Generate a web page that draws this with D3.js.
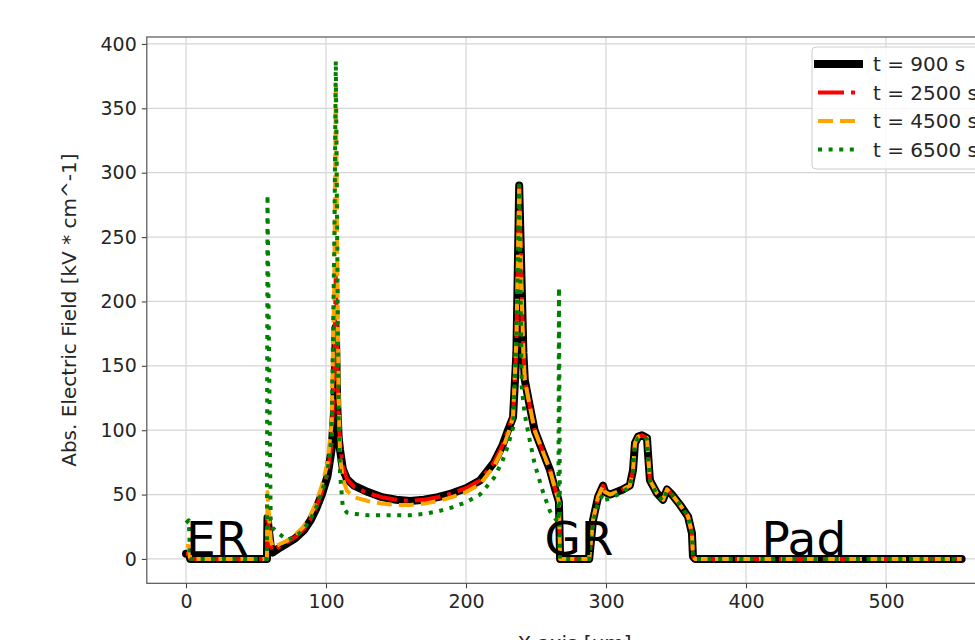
<!DOCTYPE html>
<html>
<head>
<meta charset="utf-8">
<title>Abs. Electric Field</title>
<script src="https://cdn.jsdelivr.net/npm/d3@7"></script>
<style>
  body { margin: 0; background: #fff; }
  svg { display: block; font-family: "DejaVu Sans", sans-serif; }
</style>
</head>
<body>
<div id="chart"></div>
<script>
// x positions along the structure (um)
var xPos = [0, 2, 3, 57.8, 58.2, 60.5, 62, 66, 72, 78, 84, 89, 93, 97, 101, 104, 106, 107, 108, 109, 110,
  112, 115, 120, 130, 140, 150, 160, 170, 180, 190, 200, 210, 220, 226, 230, 233.6, 236, 238, 239.8, 241,
  242, 245, 249, 255, 260, 264, 266, 266.4, 267.2, 288, 290.7, 294.3, 297.9, 299.3, 302.9, 312, 317, 319.3, 320.7, 323,
  325.7, 329.3, 330, 331.4, 336.4, 340.7, 343.6, 347.1, 352.9, 358.6, 361.4, 362.1, 363.6, 554];

// field values (kV/cm) for each time step
var field900 = [4, 4, 0, 0, 32, 10, 5, 8, 12, 16, 22, 30, 39, 50, 64, 85, 118, 180, 120, 95, 85,
  70, 62, 57, 52, 48, 46, 45, 46, 48, 51, 55, 61, 75, 88, 100, 110, 160, 290, 211, 160,
  139, 122, 100, 83, 69, 53, 46, 44, 0, 0, 30, 48, 57, 52, 50, 54, 57, 69, 90, 95,
  96, 94, 82, 61, 51, 46, 54, 50, 42, 33, 20, 2, 0, 0];
var field2500 = [4, 4, 0, 0, 32, 10, 6, 9, 13, 17, 23, 31, 40, 52, 66, 90, 150, 225, 160, 110, 90,
  72, 62, 56, 51, 48, 46, 45, 46, 48, 51, 55, 61, 75, 88, 100, 112, 165, 290, 205, 160,
  139, 122, 100, 83, 69, 53, 46, 44, 0, 0, 30, 48, 57, 52, 50, 54, 57, 69, 90, 95,
  96, 94, 82, 61, 51, 46, 54, 50, 42, 33, 20, 2, 0, 0];
var field4500 = [10, 10, 0, 0, 52, 15, 9, 11, 14, 19, 25, 34, 44, 57, 74, 105, 220, 370, 240, 130, 80,
  62, 53, 48, 45, 43, 42, 42, 43, 45, 48, 52, 58, 72, 85, 97, 110, 170, 290, 205, 160,
  139, 122, 100, 83, 69, 53, 46, 44, 0, 0, 30, 48, 57, 52, 50, 54, 57, 69, 90, 95,
  96, 94, 82, 61, 51, 46, 54, 50, 42, 33, 20, 2, 0, 0];
var field6500 = [28, 30, 0, 0, 283, 30, 24, 20, 15, 17, 23, 31, 40, 52, 67, 95, 250, 387, 250, 110, 67,
  40, 36, 35, 34, 34, 34, 34, 35, 37, 40, 44, 50, 63, 76, 88, 102, 170, 290, 134, 121,
  112, 95, 74, 52, 37, 31, 28, 211, 0, 0, 28, 44, 50, 46, 47, 52, 56, 68, 89, 94,
  95, 93, 81, 61, 50, 45, 53, 50, 42, 33, 20, 2, 0, 0];

var seriesNames = ["t = 900 s", "t = 2500 s", "t = 4500 s", "t = 6500 s"];
var seriesValues = [field900, field2500, field4500, field6500];

var xTicks = [0, 100, 200, 300, 400, 500];
var yTicks = [0, 50, 100, 150, 200, 250, 300, 350, 400];

var regionNames = ["ER", "GR", "Pad"];
var regionX = [0, 256, 411];

// line looks per series
var styles = [
  {color: "#000000", width: 8, dash: null},
  {color: "#ff0000", width: 4, dash: "26,7,4,7"},
  {color: "#ffa500", width: 4, dash: "15,7"},
  {color: "#008000", width: 4, dash: "4,6.6"}
];

var width = 975, height = 640;
var plot = {left: 146.8, right: 1002.2, top: 37, bottom: 583.3};

var svg = d3.select("#chart")
  .append("svg")
    .attr("width", width)
    .attr("height", height);

var x = d3.scaleLinear().domain([-28, 583]).range([plot.left, plot.right]);
var y = d3.scaleLinear().domain([-18.9, 405.4]).range([plot.bottom, plot.top]);

// grid
svg.append("g").selectAll("line")
  .data(xTicks)
  .enter().append("line")
    .attr("x1", function(d) { return x(d); })
    .attr("x2", function(d) { return x(d); })
    .attr("y1", plot.top)
    .attr("y2", plot.bottom)
    .attr("stroke", "#d5d5d5")
    .attr("stroke-width", 1.2);
svg.append("g").selectAll("line")
  .data(yTicks)
  .enter().append("line")
    .attr("x1", plot.left)
    .attr("x2", plot.right)
    .attr("y1", function(d) { return y(d); })
    .attr("y2", function(d) { return y(d); })
    .attr("stroke", "#d5d5d5")
    .attr("stroke-width", 1.2);

// curves
var line = d3.line()
  .x(function(d) { return x(d[0]); })
  .y(function(d) { return y(d[1]); });

svg.append("clipPath").attr("id", "plotclip")
  .append("rect")
    .attr("x", plot.left).attr("y", plot.top)
    .attr("width", plot.right - plot.left).attr("height", plot.bottom - plot.top);

var curves = svg.append("g").attr("clip-path", "url(#plotclip)");
seriesValues.forEach(function(vals, i) {
  var pts = xPos.map(function(xv, j) { return [xv, vals[j]]; });
  var s = styles[i];
  curves.append("path")
    .datum(pts)
    .attr("d", line)
    .attr("fill", "none")
    .attr("stroke", s.color)
    .attr("stroke-width", s.width)
    .attr("stroke-linejoin", "round")
    .attr("stroke-linecap", s.dash ? "butt" : "round")
    .attr("stroke-dasharray", s.dash);
});

// region labels
svg.append("g").selectAll("text")
  .data(regionNames)
  .enter().append("text")
    .attr("x", function(d, i) { return x(regionX[i]); })
    .attr("y", y(3))
    .attr("font-size", "47px")
    .attr("fill", "#000")
    .text(function(d) { return d; });

// axes
var xAxis = svg.append("g")
  .attr("transform", "translate(0," + plot.bottom + ")")
  .call(d3.axisBottom(x).tickValues(xTicks).tickSize(5).tickPadding(6).tickSizeOuter(0));
var yAxis = svg.append("g")
  .attr("transform", "translate(" + plot.left + ",0)")
  .call(d3.axisLeft(y).tickValues(yTicks).tickSize(5).tickPadding(5).tickSizeOuter(0));

[xAxis, yAxis].forEach(function(a) {
  a.select(".domain").remove();
  a.selectAll("line").attr("stroke", "#444").attr("stroke-width", 1.1);
  a.selectAll("text")
    .attr("font-family", "DejaVu Sans, sans-serif")
    .attr("font-size", "19px")
    .attr("fill", "#262626");
});

// frame
svg.append("rect")
  .attr("x", plot.left).attr("y", plot.top)
  .attr("width", plot.right - plot.left).attr("height", plot.bottom - plot.top)
  .attr("fill", "none")
  .attr("stroke", "#555")
  .attr("stroke-width", 1.2);

// axis titles
svg.append("text")
  .attr("transform", "translate(76," + ((plot.top + plot.bottom) / 2) + ") rotate(-90)")
  .attr("text-anchor", "middle")
  .attr("font-size", "20px")
  .attr("fill", "#262626")
  .text("Abs. Electric Field [kV * cm^-1]");

svg.append("text")
  .attr("x", (plot.left + plot.right) / 2)
  .attr("y", 650)
  .attr("text-anchor", "middle")
  .attr("font-size", "20px")
  .attr("fill", "#262626")
  .text("X axis [um]");

// legend
var legend = svg.append("g").attr("transform", "translate(812,47)");
legend.append("rect")
  .attr("width", 200).attr("height", 122)
  .attr("rx", 4)
  .attr("fill", "#fff").attr("fill-opacity", 0.85)
  .attr("stroke", "#cccccc");
seriesNames.forEach(function(name, i) {
  var s = styles[i];
  var ly = 17 + i * 28.5;
  legend.append("line")
    .attr("x1", 6).attr("x2", 47)
    .attr("y1", ly).attr("y2", ly)
    .attr("stroke", s.color)
    .attr("stroke-width", s.width)
    .attr("stroke-linecap", s.dash ? "butt" : "square")
    .attr("stroke-dasharray", s.dash);
  legend.append("text")
    .attr("x", 61).attr("y", ly)
    .attr("dy", "0.36em")
    .attr("font-size", "20px")
    .attr("fill", "#262626")
    .text(name);
});
</script>
</body>
</html>
